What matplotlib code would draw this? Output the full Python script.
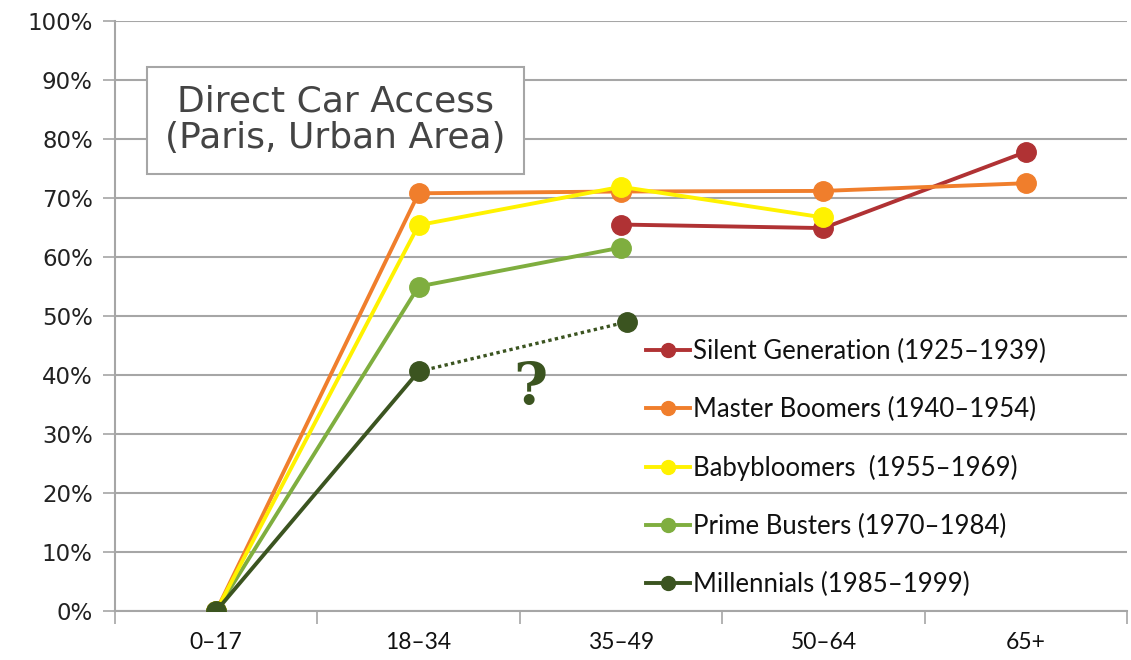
import matplotlib
matplotlib.use("Agg")
import matplotlib.pyplot as plt
from matplotlib.ticker import FixedLocator, PercentFormatter
from matplotlib.lines import Line2D

categories = ["0–17", "18–34", "35–49", "50–64", "65+"]

silent_x = [2, 3, 4]
silent_y = [65.5, 64.9, 77.8]

master_x = [0, 1, 2, 3, 4]
master_y = [0, 70.8, 71.1, 71.2, 72.5]

baby_x = [0, 1, 2, 3]
baby_y = [0, 65.4, 71.9, 66.7]

prime_x = [0, 1, 2]
prime_y = [0, 55.0, 61.6]

mill_x = [0, 1]
mill_y = [0, 40.6]
mill_proj_x = [1, 2.03]
mill_proj_y = [40.6, 49.0]

labels = ["Silent Generation (1925–1939)", "Master Boomers (1940–1954)",
          "Babybloomers  (1955–1969)", "Prime Busters (1970–1984)",
          "Millennials (1985–1999)"]
colors = ["#B03234", "#F07E2C", "#FFF200", "#7FAE3F", "#3B5420"]

plt.rcParams['font.family'] = ['Lato', 'DejaVu Sans']

fig = plt.figure(figsize=(11.31, 6.60), dpi=100)
ax = fig.add_axes([115/1131, 1-611/660, (1127-115)/1131, (611-21)/660])

grid_c = "#A6A6A6"
ax.set_xlim(-0.5, 4.5)
ax.set_ylim(0, 100)
ax.yaxis.set_major_locator(FixedLocator(range(0, 101, 10)))
ax.yaxis.set_major_formatter(PercentFormatter(decimals=0))
ax.set_xticks(range(5))
ax.set_xticklabels(categories)
ax.xaxis.set_minor_locator(FixedLocator([-0.5, 0.5, 1.5, 2.5, 3.5, 4.5]))
ax.tick_params(axis='x', which='major', length=0, pad=15, labelsize=16.5, labelcolor="#111111")
ax.tick_params(axis='x', which='minor', length=9, width=1.2, color=grid_c, direction='out')
ax.tick_params(axis='y', which='major', length=9, width=1.2, color=grid_c, pad=7,
               labelsize=16.5, labelcolor="#222222")
for t in ax.get_yticklabels():
    t.set_family('DejaVu Sans')
ax.grid(axis='y', color=grid_c, linewidth=1.5)
ax.set_axisbelow(True)
for s in ['top', 'right']:
    ax.spines[s].set_visible(False)
for s in ['left', 'bottom']:
    ax.spines[s].set_color(grid_c)
    ax.spines[s].set_linewidth(1.5)

lw = 2.8
ms = 14
ax.plot(silent_x, silent_y, color=colors[0], lw=lw, marker='o', ms=ms, zorder=3)
ax.plot(master_x, master_y, color=colors[1], lw=lw, marker='o', ms=ms, zorder=4)
ax.plot(baby_x, baby_y, color=colors[2], lw=lw, marker='o', ms=ms, zorder=5)
ax.plot(prime_x, prime_y, color=colors[3], lw=lw, marker='o', ms=ms, zorder=4)
ax.plot(mill_x, mill_y, color=colors[4], lw=lw, marker='o', ms=ms, zorder=6)
ax.plot(mill_proj_x, mill_proj_y, color=colors[4], lw=2.4, ls=(0, (1, 1)), marker='o', ms=ms,
        markevery=[1], zorder=6)

handles = [Line2D([0], [0], color=c, lw=2.8, marker='o', ms=10) for c in colors]
leg = ax.legend(handles, labels, loc='upper left', bbox_to_anchor=(521/1012, 1 - (329-21)/590),
                frameon=False, fontsize=18.5, labelspacing=1.28, handlelength=1.7,
                handletextpad=0.1, borderaxespad=0)
for t in leg.get_texts():
    t.set_color("#111111")

ax.text(1.55, 37.8, "?", fontsize=42, fontweight='bold', family='DejaVu Serif',
        color=colors[4], ha='center', va='center')

ax.text(0.59, 83.2, "Direct Car Access\n(Paris, Urban Area)", fontsize=26, color="#444444",
        family='DejaVu Sans', ha='center', va='center', linespacing=1.1,
        bbox=dict(boxstyle='square,pad=0.5', fc='white', ec="#A6A6A6", lw=1.5))

fig.savefig("out.png", dpi=100)
